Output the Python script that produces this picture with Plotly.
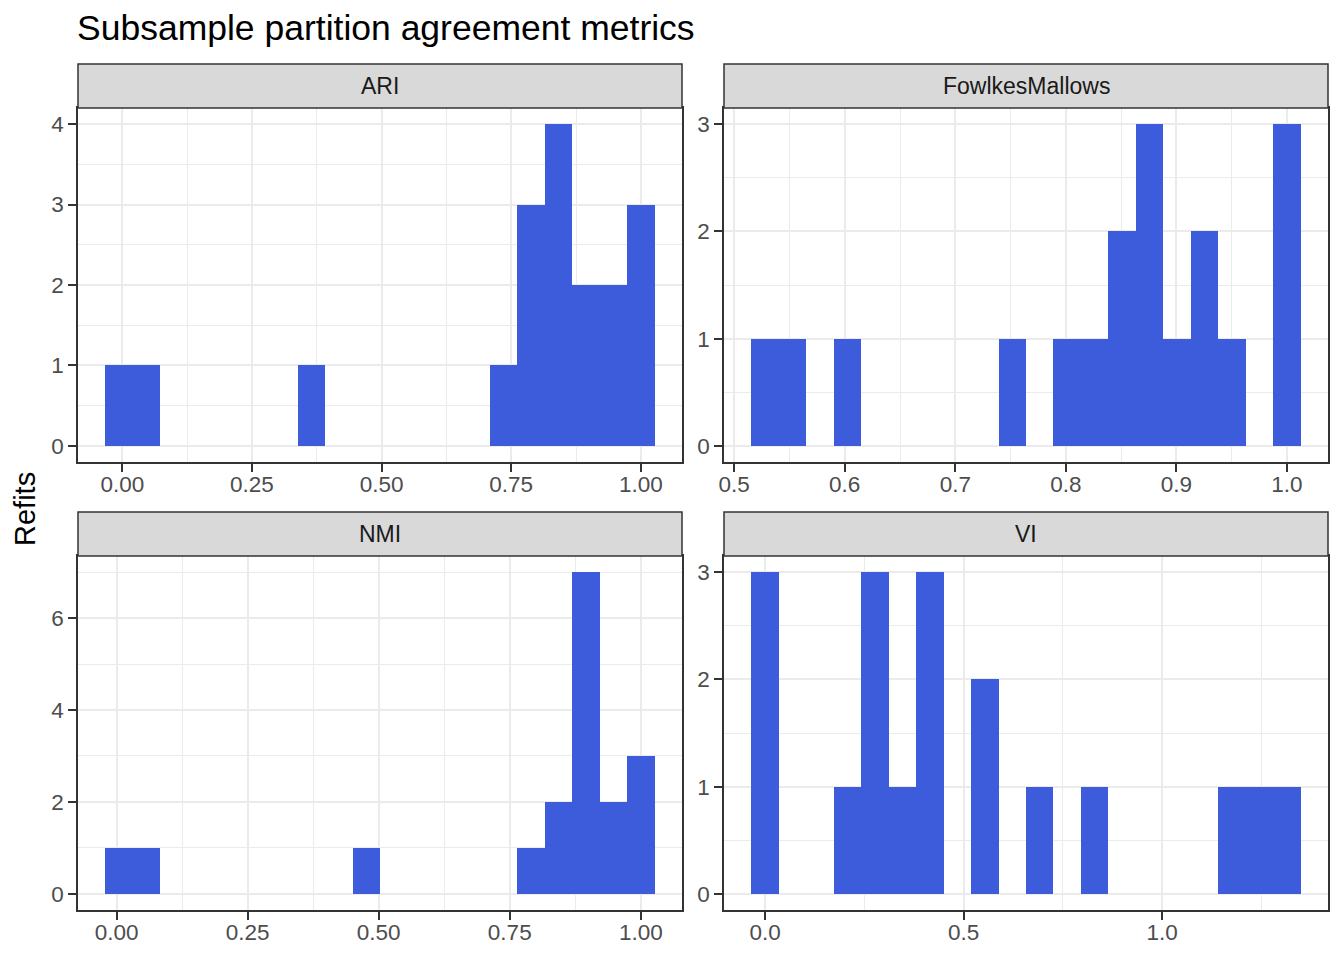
import numpy as np
import plotly.graph_objects as go

W, H = 1344, 960

panels = ["ARI", "FowlkesMallows", "NMI", "VI"]

# histogram counts (20 bins each)
ari_counts = [1, 1, 0, 0, 0, 0, 0, 1, 0, 0, 0, 0, 0, 0, 1, 3, 4, 2, 2, 3]
fm_counts = [1, 1, 0, 1, 0, 0, 0, 0, 0, 1, 0, 1, 1, 2, 3, 1, 2, 1, 0, 3]
nmi_counts = [1, 1, 0, 0, 0, 0, 0, 0, 0, 1, 0, 0, 0, 0, 0, 1, 2, 7, 2, 3]
vi_counts = [3, 0, 0, 1, 3, 1, 3, 0, 2, 0, 1, 0, 1, 0, 0, 0, 0, 1, 1, 1]

# data min / max of each metric (centre of first and last bin)
ari_range = [-0.006, 1.0]
fm_range = [0.528, 1.0]
nmi_range = [0.005, 1.0]
vi_range = [0.0, 1.314]

# tick labels
ari_xticks = [0, 0.25, 0.5, 0.75, 1.0]
ari_xlabels = ["0.00", "0.25", "0.50", "0.75", "1.00"]
fm_xticks = [0.5, 0.6, 0.7, 0.8, 0.9, 1.0]
fm_xlabels = ["0.5", "0.6", "0.7", "0.8", "0.9", "1.0"]
nmi_xticks = [0, 0.25, 0.5, 0.75, 1.0]
nmi_xlabels = ["0.00", "0.25", "0.50", "0.75", "1.00"]
vi_xticks = [0, 0.5, 1.0]
vi_xlabels = ["0.0", "0.5", "1.0"]

ari_yticks = [0, 1, 2, 3, 4]
fm_yticks = [0, 1, 2, 3]
nmi_yticks = [0, 2, 4, 6]
vi_yticks = [0, 1, 2, 3]

counts = [ari_counts, fm_counts, nmi_counts, vi_counts]
ranges = [ari_range, fm_range, nmi_range, vi_range]
xticks = [ari_xticks, fm_xticks, nmi_xticks, vi_xticks]
xlabels = [ari_xlabels, fm_xlabels, nmi_xlabels, vi_xlabels]
yticks = [ari_yticks, fm_yticks, nmi_yticks, vi_yticks]

BAR = "#3D5CDB"
GRID = "#EBEBEB"
BORDER = "#333333"
FONT = "Liberation Sans, Arial, sans-serif"

# panel pixel boxes (left, right, top, bottom)
cols = [(78, 682), (724, 1328)]
rows = [(108, 462), (556, 910)]
strip_h = 44


def px_x(p):
    return p / W


def px_y(p):
    return 1 - p / H


fig = go.Figure()
layout = dict(
    width=W, height=H,
    margin=dict(l=0, r=0, t=0, b=0, autoexpand=False),
    paper_bgcolor="white", plot_bgcolor="white",
    showlegend=False, bargap=0,
    font=dict(family=FONT, size=22, color="#4D4D4D"),
)
shapes = []
annotations = []

for i, name in enumerate(panels):
    r, c = divmod(i, 2)
    (xl, xr), (yt, yb) = cols[c], rows[r]
    cnt = np.array(counts[i], dtype=float)
    lo, hi = ranges[i]
    n = len(cnt)
    centers = np.linspace(lo, hi, n)
    w = (hi - lo) / (n - 1)
    e0, e1 = lo - w / 2, hi + w / 2
    pad = 0.05 * (e1 - e0)
    ymax = cnt.max()
    sfx = "" if i == 0 else str(i + 1)
    fig.add_trace(go.Bar(
        x=centers, y=cnt, width=w, marker=dict(color=BAR, line=dict(width=0)),
        xaxis="x" + sfx, yaxis="y" + sfx, hoverinfo="x+y",
    ))
    xt = xticks[i]
    step = xt[1] - xt[0]
    xminor = [v + step / 2 for v in [xt[0] - step] + xt]
    xminor = [v for v in xminor if e0 - pad < v < e1 + pad]
    yt_ = yticks[i]
    ystep = yt_[1] - yt_[0]
    yminor = [v + ystep / 2 for v in [yt_[0] - ystep] + yt_]
    yminor = [v for v in yminor if -0.05 * ymax < v < 1.05 * ymax]
    common = dict(
        showline=True, linecolor=BORDER, linewidth=1.5, mirror=True,
        ticks="outside", ticklen=8, tickwidth=1.5, tickcolor=BORDER,
        showgrid=True, gridcolor=GRID, gridwidth=2, zeroline=False,
        tickfont=dict(family=FONT, size=22.5, color="#4D4D4D"),
        fixedrange=True, automargin=False,
    )
    layout["xaxis" + sfx] = dict(
        common, domain=[px_x(xl), px_x(xr)], anchor="y" + sfx,
        range=[e0 - pad, e1 + pad], tickmode="array", tickvals=xt, ticktext=xlabels[i],
        minor=dict(tickvals=xminor, showgrid=True, gridcolor=GRID, gridwidth=1, ticks=""),
        ticklabelstandoff=-7,
    )
    layout["yaxis" + sfx] = dict(
        common, domain=[px_y(yb), px_y(yt)], anchor="x" + sfx,
        range=[-0.05 * ymax, 1.05 * ymax], tickmode="array", tickvals=yt_,
        ticktext=[str(v) for v in yt_],
        minor=dict(tickvals=yminor, showgrid=True, gridcolor=GRID, gridwidth=1, ticks=""),
        ticklabelstandoff=0,
    )
    # strip
    shapes.append(dict(
        type="rect", xref="paper", yref="paper",
        x0=px_x(xl), x1=px_x(xr), y0=px_y(yt), y1=px_y(yt - strip_h),
        fillcolor="#D9D9D9", line=dict(color=BORDER, width=1.5), layer="above",
    ))
    annotations.append(dict(
        text=name, xref="paper", yref="paper", x=px_x((xl + xr) / 2),
        y=px_y(yt - strip_h / 2), xanchor="center", yanchor="middle",
        showarrow=False, font=dict(family=FONT, size=23, color="#1A1A1A"),
    ))

annotations.append(dict(
    text="Subsample partition agreement metrics", xref="paper", yref="paper",
    x=px_x(75), y=px_y(28), xanchor="left", yanchor="middle", showarrow=False,
    font=dict(family=FONT, size=35.5, color="black"),
))
annotations.append(dict(
    text="Refits", xref="paper", yref="paper", x=px_x(25), y=px_y(509),
    xanchor="center", yanchor="middle", textangle=-90, showarrow=False,
    font=dict(family=FONT, size=29, color="black"),
))

layout["shapes"] = shapes
layout["annotations"] = annotations
fig.update_layout(**layout)
fig.write_html(
    "out.html",
    config={"displayModeBar": False},
    post_script="document.body.style.margin='0';document.body.style.overflow='hidden';",
)
